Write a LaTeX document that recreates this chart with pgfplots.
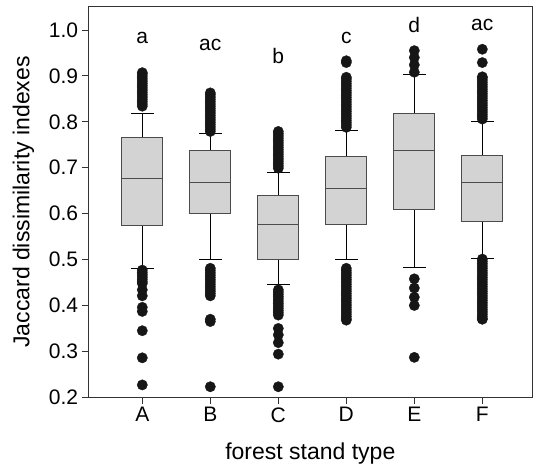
\documentclass[border=0pt]{standalone}
\usepackage{fontspec}
\setmainfont{Liberation Sans}
\usepackage{pgfplots}
\usepgfplotslibrary{statistics}
\pgfplotsset{compat=1.18}
\definecolor{boxfill}{RGB}{211,211,211}
\definecolor{boxedge}{RGB}{75,75,75}
\definecolor{dot}{RGB}{22,22,22}
\pgfplotsset{
  jbox/.style={draw=boxedge, fill=boxfill, line width=0.9pt,
    mark=*, mark size=5.2pt, mark options={solid, fill=dot, draw=dot, line width=0.3pt}},
}
\begin{document}
\begin{tikzpicture}
\begin{axis}[name=ax, scale only axis, width=444pt, height=390.6pt,
  xmin=0.206, xmax=6.735, ymin=0.2, ymax=1.0507,
  xtick={1,2,3,4,5,6}, xticklabels={A,B,C,D,E,F},
  ytick={0.2,0.3,0.4,0.5,0.6,0.7,0.8,0.9,1.0},
  yticklabel style={/pgf/number format/fixed, /pgf/number format/fixed zerofill, /pgf/number format/precision=1},
  /pgf/number format/assume math mode=true,
  tick pos=left, tick align=outside, major tick length=6.6pt,
  tick style={black!80, line width=0.8pt},
  axis line style={black!80, line width=0.9pt},
  ticklabel style={font=\fontsize{21}{25}\selectfont},
  xlabel={forest stand type}, ylabel={Jaccard dissimilarity indexes},
  label style={font=\fontsize{23}{27}\selectfont},
  xlabel style={at={([yshift=-62pt]axis description cs:0.5,0)}, anchor=base},
  ylabel style={at={([xshift=-59pt]axis description cs:0,0.5)}, anchor=base},
  boxplot/draw direction=y, boxplot/box extend=0.6, boxplot/whisker extend=0.33,
  boxplot/every whisker/.style={black, line width=0.8pt},
  clip=false,
]
% A
\addplot[jbox, boxplot prepared={draw position=1, lower whisker=0.480, lower quartile=0.575, median=0.676, upper quartile=0.767, upper whisker=0.819}]
  table[row sep=\\, y index=0]{data\\ 0.834\\ 0.839\\ 0.844\\ 0.849\\ 0.854\\ 0.859\\ 0.864\\ 0.869\\ 0.874\\ 0.879\\ 0.884\\ 0.889\\ 0.894\\ 0.899\\ 0.904\\ 0.907\\
  0.477\\ 0.472\\ 0.467\\ 0.462\\ 0.457\\ 0.452\\ 0.448\\ 0.434\\ 0.421\\ 0.396\\ 0.387\\ 0.345\\ 0.286\\ 0.227\\};
% B
\addplot[jbox, boxplot prepared={draw position=2, lower whisker=0.500, lower quartile=0.601, median=0.667, upper quartile=0.738, upper whisker=0.774}]
  table[row sep=\\, y index=0]{data\\ 0.779\\ 0.784\\ 0.789\\ 0.794\\ 0.799\\ 0.804\\ 0.809\\ 0.814\\ 0.819\\ 0.824\\ 0.829\\ 0.834\\ 0.839\\ 0.844\\ 0.849\\ 0.854\\ 0.859\\ 0.863\\
  0.481\\ 0.476\\ 0.471\\ 0.466\\ 0.461\\ 0.456\\ 0.451\\ 0.446\\ 0.441\\ 0.436\\ 0.431\\ 0.426\\ 0.421\\ 0.370\\ 0.365\\ 0.223\\};
% C
\addplot[jbox, boxplot prepared={draw position=3, lower whisker=0.445, lower quartile=0.500, median=0.576, upper quartile=0.640, upper whisker=0.689}]
  table[row sep=\\, y index=0]{data\\ 0.699\\ 0.704\\ 0.709\\ 0.714\\ 0.719\\ 0.724\\ 0.729\\ 0.734\\ 0.739\\ 0.744\\ 0.749\\ 0.754\\ 0.759\\ 0.764\\ 0.769\\ 0.774\\ 0.779\\
  0.434\\ 0.429\\ 0.424\\ 0.419\\ 0.414\\ 0.409\\ 0.404\\ 0.399\\ 0.394\\ 0.389\\ 0.384\\ 0.379\\ 0.350\\ 0.336\\ 0.319\\ 0.294\\ 0.223\\};
% D
\addplot[jbox, boxplot prepared={draw position=4, lower whisker=0.500, lower quartile=0.577, median=0.654, upper quartile=0.724, upper whisker=0.782}]
  table[row sep=\\, y index=0]{data\\ 0.788\\ 0.793\\ 0.798\\ 0.803\\ 0.808\\ 0.813\\ 0.818\\ 0.823\\ 0.828\\ 0.833\\ 0.838\\ 0.843\\ 0.848\\ 0.853\\ 0.858\\ 0.863\\ 0.868\\ 0.873\\ 0.878\\ 0.883\\ 0.888\\ 0.893\\ 0.897\\ 0.929\\ 0.933\\
  0.481\\ 0.476\\ 0.471\\ 0.466\\ 0.461\\ 0.456\\ 0.451\\ 0.446\\ 0.441\\ 0.436\\ 0.431\\ 0.426\\ 0.421\\ 0.416\\ 0.411\\ 0.406\\ 0.401\\ 0.396\\ 0.391\\ 0.386\\ 0.381\\ 0.376\\ 0.371\\ 0.368\\};
% E
\addplot[jbox, boxplot prepared={draw position=5, lower whisker=0.483, lower quartile=0.609, median=0.738, upper quartile=0.818, upper whisker=0.903}]
  table[row sep=\\, y index=0]{data\\ 0.908\\ 0.924\\ 0.940\\ 0.955\\ 0.458\\ 0.438\\ 0.418\\ 0.400\\ 0.287\\};
% F
\addplot[jbox, boxplot prepared={draw position=6, lower whisker=0.503, lower quartile=0.584, median=0.667, upper quartile=0.727, upper whisker=0.800}]
  table[row sep=\\, y index=0]{data\\ 0.806\\ 0.811\\ 0.816\\ 0.821\\ 0.826\\ 0.831\\ 0.836\\ 0.841\\ 0.846\\ 0.851\\ 0.856\\ 0.861\\ 0.866\\ 0.871\\ 0.876\\ 0.881\\ 0.886\\ 0.891\\ 0.896\\ 0.898\\ 0.929\\ 0.958\\
  0.501\\ 0.496\\ 0.491\\ 0.486\\ 0.481\\ 0.476\\ 0.471\\ 0.466\\ 0.461\\ 0.456\\ 0.451\\ 0.446\\ 0.441\\ 0.436\\ 0.431\\ 0.426\\ 0.421\\ 0.416\\ 0.411\\ 0.406\\ 0.401\\ 0.396\\ 0.391\\ 0.386\\ 0.381\\ 0.376\\ 0.371\\ 0.370\\};
% group letters
\begin{scope}[every node/.style={anchor=base, font=\fontsize{21}{25}\selectfont}]
\node at (axis cs:1,0.971) {a};
\node at (axis cs:2,0.956) {ac};
\node at (axis cs:3,0.927) {b};
\node at (axis cs:4,0.971) {c};
\node at (axis cs:5,0.994) {d};
\node at (axis cs:6,0.998) {ac};
\end{scope}
\end{axis}
\pgfresetboundingbox
\path ([xshift=-88.3pt,yshift=-70.7pt]ax.south west) rectangle ([xshift=4.7pt,yshift=6.7pt]ax.north east);
\end{tikzpicture}
\end{document}
